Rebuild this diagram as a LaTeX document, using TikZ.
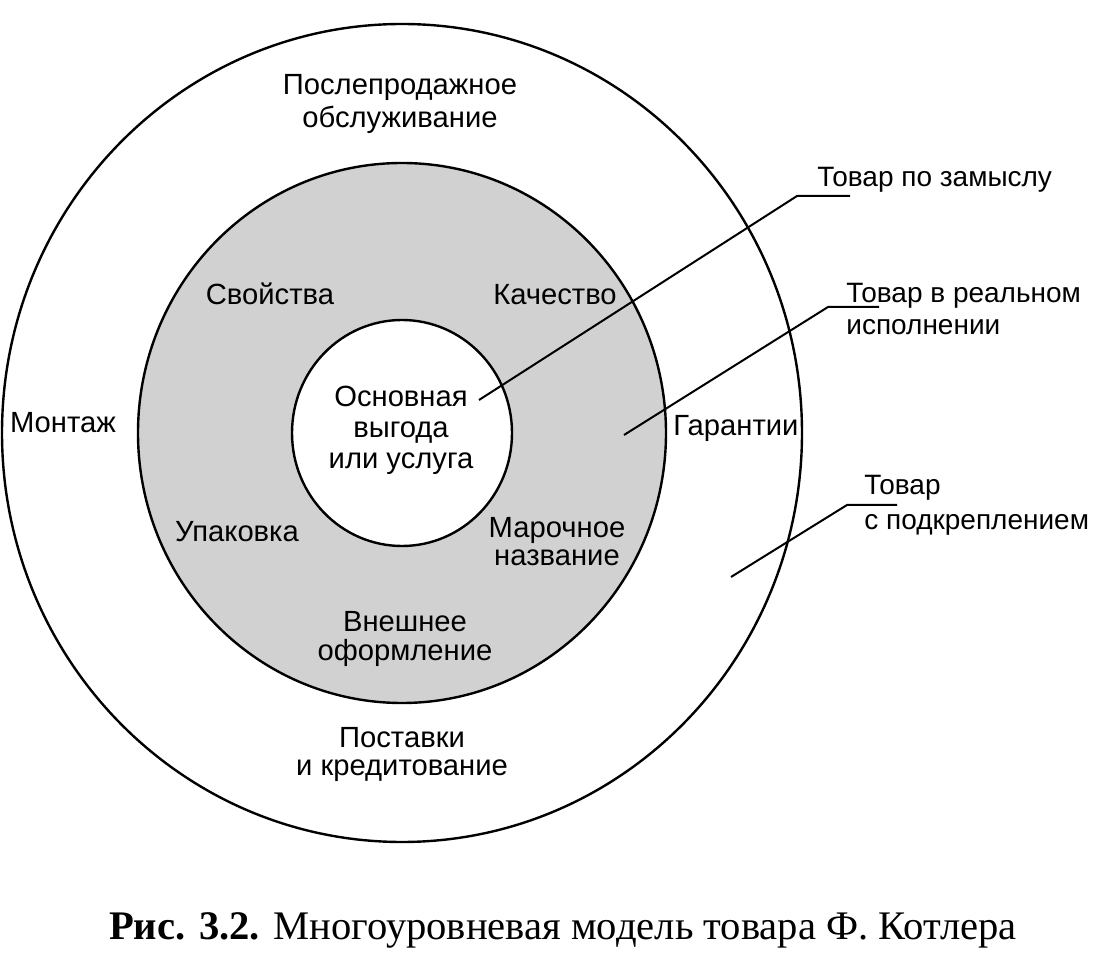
\documentclass[tikz,border=0pt]{standalone}
\usepackage{fontspec}
\setmainfont{Liberation Sans}
\newfontfamily\captionserif{Liberation Serif}
\usepackage{tikz}
\usetikzlibrary{calc,
                positioning
                }

\tikzset{
    ring/.style={draw=black, line width=1.2pt},
    lbl/.style={inner sep=0pt, align=center, anchor=base, font=\fontsize{14.6}{#1}\selectfont},
    lbl/.default=15,
    sidelbl/.style={inner sep=0pt, align=left, anchor=base west, font=\fontsize{14}{#1}\selectfont},
    sidelbl/.default=16,
    leader/.style={draw=black, line width=1pt}
}

\begin{document}
\begin{tikzpicture}[x=0.5pt, y=-0.5pt]
            \useasboundingbox (0,0) rectangle (1115,967);
            \coordinate (c) at (402,433);

            %rings
            \draw[ring] (c) ellipse [x radius=200pt, y radius=204.5pt];
            \draw[ring, fill=black!18] (c) ellipse [x radius=132pt, y radius=135pt];
            \draw[ring, fill=white] (c) ellipse [x radius=55pt, y radius=56.5pt];

            %ring labels (multi-line ones sit on their last line)
            \node[lbl=16.5] (afterSale) at (400,128) {Послепродажное\\обслуживание};
            \node[lbl] (props) at (270,305) {Свойства};
            \node[lbl] (quality) at (555,305) {Качество};
            \node[lbl=15.5] (core) at (401,469) {Основная\\выгода\\или услуга};
            \node[lbl] (mount) at (63,433) {Монтаж};
            \node[lbl] (warranty) at (736,436) {Гарантии};
            \node[lbl] (pack) at (237,542) {Упаковка};
            \node[lbl=14] (brand) at (557,566) {Марочное\\название};
            \node[lbl=14.5] (design) at (405,661) {Внешнее\\оформление};
            \node[lbl=14] (delivery) at (402,776) {Поставки\\и кредитование};

            %level names
            \node[sidelbl] (lvlIdea) at (817,187) {Товар по замыслу};
            \node[sidelbl=16] (lvlReal) at (846,335) {Товар в реальном\\исполнении};
            \node[sidelbl=17.5] (lvlAug) at (864,530) {Товар\\с подкреплением};

            %leaders
            \coordinate (tipIdea) at (479,400);
            \coordinate (bendIdea) at (797,196);
            \coordinate (tipReal) at (624,435);
            \coordinate (bendReal) at (828,307);
            \coordinate (tipAug) at (731,577);
            \coordinate (bendAug) at (847,505);
            \foreach \n in {Idea, Real, Aug}
                \draw[leader] (tip\n) -- (bend\n) -- ($(bend\n -| lvl\n.west)+(33,0)$);

            %caption
            \node[font=\captionserif\fontsize{20.3}{24}\selectfont, anchor=base] (caption) at (563,940)
                {\textbf{Рис. 3.2.} Многоуровневая модель товара Ф. Котлера};
\end{tikzpicture}
\end{document}
